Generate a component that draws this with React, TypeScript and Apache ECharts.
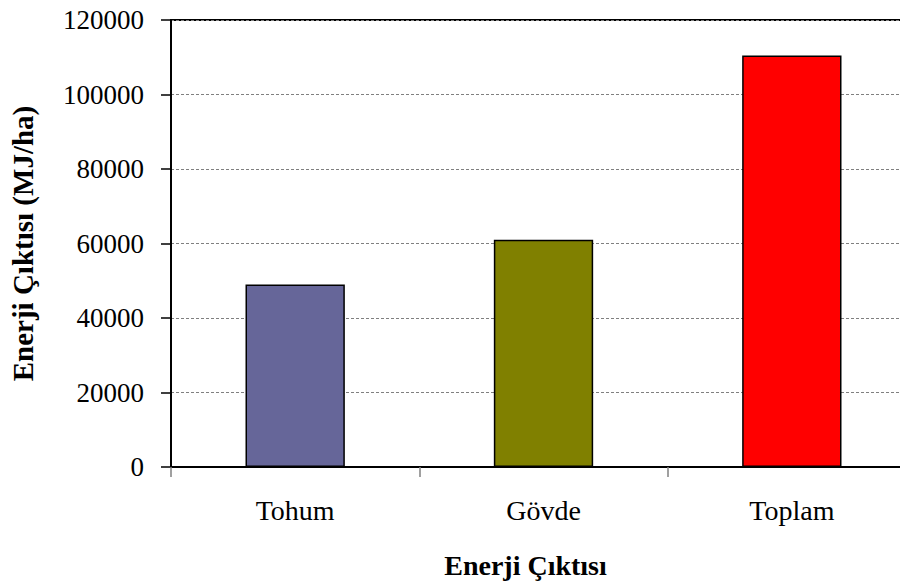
import React, { useEffect, useRef } from "react";
import * as echarts from "echarts";

const categories = ["Tohum", "Gövde", "Toplam"];
const values = [49000, 61000, 110500];
const barColors = ["#666699", "#808000", "#ff0000"];

const FONT = "'Liberation Serif', 'Times New Roman', serif";

export default function App() {
  const ref = useRef<HTMLDivElement>(null);

  useEffect(() => {
    document.body.style.margin = "0";
    if (!ref.current) return;
    const chart = echarts.init(ref.current, null, { renderer: "svg" });
    chart.setOption({
      animation: false,
      backgroundColor: "#fff",
      // the plot frame runs slightly past the right edge of the visible page
      grid: {
        left: 169,
        top: 20,
        right: 0,
        bottom: 118,
        show: true,
        borderColor: "#000",
        borderWidth: 2,
        containLabel: false,
      },
      xAxis: {
        type: "category",
        data: categories,
        name: "Enerji Çıktısı",
        nameLocation: "middle",
        nameGap: 84,
        nameTextStyle: {
          fontFamily: FONT,
          fontSize: 28,
          fontWeight: "bold",
          color: "#000",
          padding: [0, 36, 0, 0],
        },
        axisLine: { lineStyle: { color: "#000", width: 2 } },
        axisTick: { show: true, length: 10, lineStyle: { color: "#808080", width: 1.5 } },
        axisLabel: { fontFamily: FONT, fontSize: 28, color: "#000", margin: 29 },
      },
      yAxis: {
        type: "value",
        min: 0,
        max: 120000,
        interval: 20000,
        name: "Enerji Çıktısı (MJ/ha)",
        nameLocation: "middle",
        nameGap: 134,
        nameRotate: 90,
        nameTextStyle: { fontFamily: FONT, fontSize: 29, fontWeight: "bold", color: "#000" },
        axisLine: { show: true, lineStyle: { color: "#000", width: 2 } },
        axisTick: { show: true, length: 10, lineStyle: { color: "#000", width: 1.5 } },
        axisLabel: {
          fontFamily: FONT,
          fontSize: 27,
          color: "#000",
          margin: 27,
          formatter: (v: number) => String(v),
        },
        splitLine: { show: true, lineStyle: { color: "#808080", width: 1, type: [3, 2] } },
      },
      series: [
        {
          type: "bar",
          barWidth: "40%",
          data: values.map((v, i) => ({
            value: v,
            itemStyle: { color: barColors[i], borderColor: "#000", borderWidth: 1.5 },
          })),
        },
      ],
    });
    return () => chart.dispose();
  }, []);

  return (
    <div
      style={{
        position: "fixed",
        left: 0,
        top: 0,
        width: 900,
        height: 585,
        overflow: "hidden",
        background: "#fff",
      }}
    >
      <div ref={ref} style={{ width: 916, height: 585 }} />
    </div>
  );
}
